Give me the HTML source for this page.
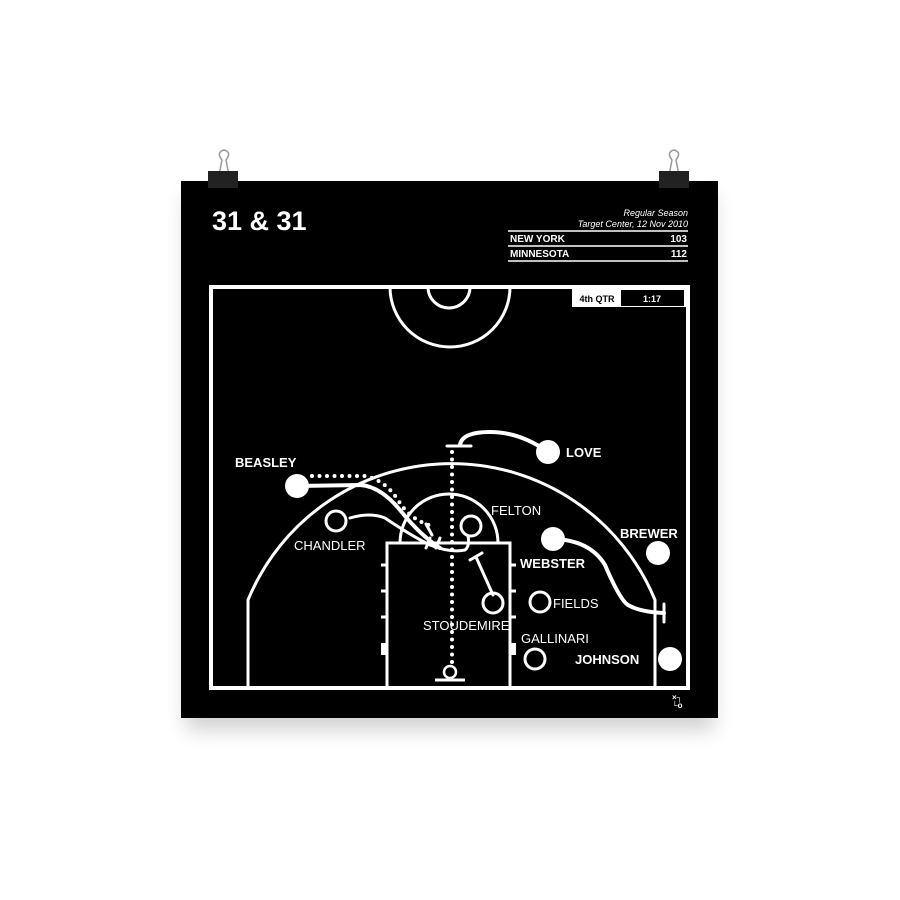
<!DOCTYPE html>
<html><head><style>
body{margin:0;width:900px;height:900px;background:#fff;overflow:hidden}
svg{display:block}
text{font-family:"Liberation Sans",sans-serif;fill:#fff}
</style></head><body>
<svg width="900" height="900" viewBox="0 0 900 900">
<defs><filter id="sh" x="-10%" y="-10%" width="120%" height="130%"><feGaussianBlur stdDeviation="10"/></filter></defs>
<rect x="186" y="195" width="528" height="535" fill="#000" opacity="0.18" filter="url(#sh)"/>
<rect x="181" y="181" width="537" height="537" fill="#000"/>
<!-- clips -->
<g fill="none" stroke="#999" stroke-width="1.5">
<path d="M218 180 L222 160 Q216 152 224 150 Q232 152 226 160 L230 180"/>
<path d="M668 180 L672 160 Q666 152 674 150 Q682 152 676 160 L680 180"/>
</g>
<rect x="208" y="171" width="30" height="17" fill="#222"/>
<rect x="659" y="171" width="30" height="17" fill="#222"/>
<!-- header -->
<text x="212" y="230" font-size="27" font-weight="bold">31 &amp; 31</text>
<text x="688" y="216" font-size="9" font-style="italic" text-anchor="end">Regular Season</text>
<text x="688" y="227" font-size="9" font-style="italic" text-anchor="end">Target Center, 12 Nov 2010</text>
<g stroke="#fff" stroke-width="1.5"><line x1="508" y1="231" x2="688" y2="231"/><line x1="508" y1="246" x2="688" y2="246"/><line x1="508" y1="261" x2="688" y2="261"/></g>
<text x="510" y="242" font-size="10" font-weight="bold">NEW YORK</text>
<text x="687" y="242" font-size="10" font-weight="bold" text-anchor="end">103</text>
<text x="510" y="257" font-size="10" font-weight="bold">MINNESOTA</text>
<text x="687" y="257" font-size="10" font-weight="bold" text-anchor="end">112</text>
<!-- court -->
<g fill="none" stroke="#fff" stroke-width="4">
<rect x="211" y="287" width="477" height="401"/>
</g>
<g fill="none" stroke="#fff" stroke-width="3">
<path d="M390 287 A60 60 0 0 0 510 287"/>
<path d="M428 287 A21 21 0 0 0 470 287"/>
<path d="M248 688 V600 A220 220 0 0 1 655 600 V688"/>
<rect x="387" y="543" width="123" height="145"/>
<path d="M400 543 A49 49 0 0 1 498 543"/>
<path d="M381 565h6M381 591h6M381 617h6M510 565h6M510 591h6M510 617h6"/>
<path d="M435 680h30"/>
</g>
<rect x="381" y="643" width="6" height="12" fill="#fff"/>
<rect x="510" y="643" width="6" height="12" fill="#fff"/>
<!-- quarter box -->
<rect x="572" y="289" width="115" height="18" fill="#fff"/>
<rect x="621" y="290" width="63" height="16" fill="#000"/>
<text x="597" y="302" font-size="9" font-weight="bold" text-anchor="middle" style="fill:#000">4th QTR</text>
<text x="652" y="302" font-size="9" font-weight="bold" text-anchor="middle">1:17</text>
<!-- paths -->
<g fill="none" stroke="#fff" stroke-width="4" stroke-linecap="round">
<path d="M297 486 L360 485 Q380 486 400 510 Q420 535 440 548"/>
<path d="M548 452 Q520 432 490 432 Q462 432 460 445"/>
<path d="M553 539 Q590 540 605 565 Q620 600 628 605 Q640 612 664 613"/>
</g>
<g fill="none" stroke="#fff" stroke-width="3" stroke-linecap="round">
<path d="M350 518 Q370 512 385 518 Q410 535 430 545 Q450 553 465 550 Q470 546 468 536"/>
<path d="M447 446h24M664 604v18M470 560l12-7"/>
<path d="M493 595 L476 557"/>
<path d="M426 524l6 11M426 548l4-10M436 548l4-10"/>
</g>
<g fill="none" stroke="#fff" stroke-width="4" stroke-dasharray="0 7.5" stroke-linecap="round">
<path d="M452 452 L452 665"/>
<path d="M312 476 L365 476 Q385 480 398 500 Q410 520 432 526"/>
</g>
<circle cx="450" cy="672" r="6" fill="none" stroke="#fff" stroke-width="2.5"/>
<!-- players -->
<g fill="#fff">
<circle cx="548" cy="452" r="12"/><circle cx="297" cy="486" r="12"/><circle cx="553" cy="539" r="12"/><circle cx="658" cy="553" r="12"/><circle cx="670" cy="659" r="12"/>
</g>
<g fill="none" stroke="#fff" stroke-width="3">
<circle cx="336" cy="521" r="10"/><circle cx="471" cy="526" r="10"/><circle cx="493" cy="603" r="10"/><circle cx="540" cy="602" r="10"/><circle cx="535" cy="659" r="10"/>
</g>
<g font-size="13">
<text x="566" y="457" font-weight="bold">LOVE</text>
<text x="235" y="467" font-weight="bold">BEASLEY</text>
<text x="294" y="550">CHANDLER</text>
<text x="491" y="515">FELTON</text>
<text x="520" y="568" font-weight="bold">WEBSTER</text>
<text x="620" y="538" font-weight="bold">BREWER</text>
<text x="423" y="630">STOUDEMIRE</text>
<text x="553" y="608">FIELDS</text>
<text x="521" y="643">GALLINARI</text>
<text x="575" y="664" font-weight="bold">JOHNSON</text>
</g>
<text x="672" y="700" font-size="8" font-weight="bold">×┐</text>
<text x="672" y="708" font-size="8" font-weight="bold">└o</text>
</svg>
</body></html>
